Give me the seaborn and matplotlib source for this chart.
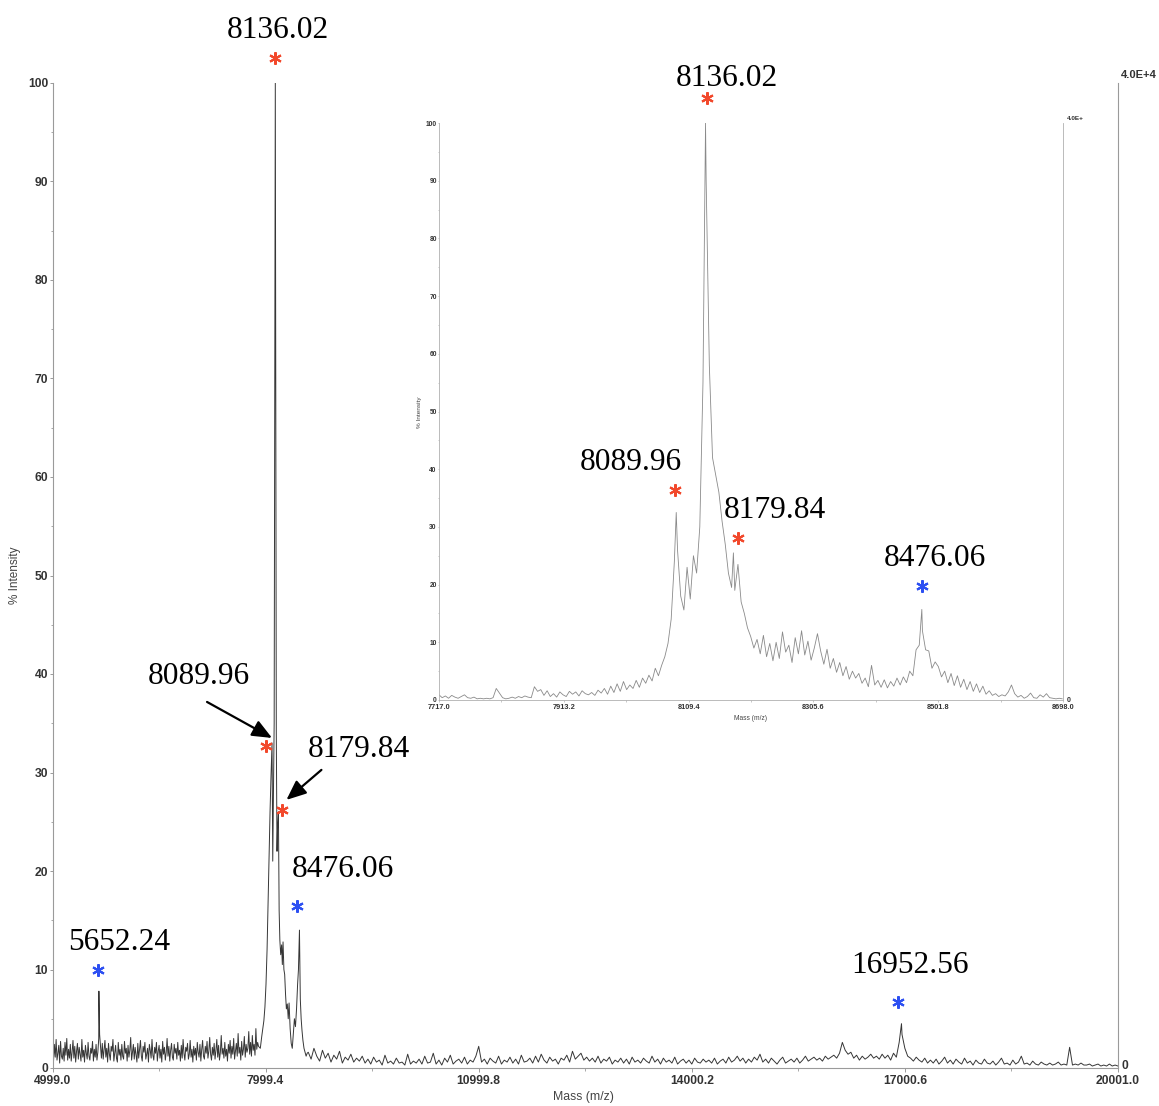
import numpy as np
import pandas as pd
import matplotlib
matplotlib.use("Agg")
import matplotlib.pyplot as plt
from matplotlib.transforms import offset_copy
import seaborn as sns

# ---------------- full-range MALDI spectrum (m/z 4999 - 20001) ----------------
# low-mass baseline, sampled every 12.5 Da from 5000
main_low_start, main_low_step = 5000.0, 12.5
main_low_intensity = [
    1.8, 0.6, 2.4, 1.1, 2.9, 0.8, 1.5, 2.3, 0.5, 2.7, 1.2, 0.9, 2.0, 0.7, 2.6, 1.3, 3.0, 0.8, 1.9, 1.0,
    2.4, 0.7, 1.6, 2.8, 1.0, 2.2, 0.6, 1.7, 2.5, 0.9, 2.1, 1.4, 0.7, 2.9, 1.1, 1.8, 0.6, 2.3, 1.5, 0.9,
    2.6, 1.2, 0.8, 2.0, 1.5, 2.7, 0.7, 1.9, 1.1, 2.4, 0.8, 1.6, 3.0, 3.4, 2.2, 1.0, 2.5, 0.9, 1.8, 2.8,
    1.1, 2.0, 0.6, 2.5, 1.4, 0.8, 2.2, 1.7, 2.9, 0.7, 1.5, 2.3, 1.0, 0.6, 2.6, 1.3, 1.9, 0.8, 2.4, 1.2,
    0.9, 2.7, 1.5, 2.0, 0.7, 2.3, 1.1, 1.8, 3.1, 0.8, 1.6, 2.4, 0.9, 2.1, 1.3, 0.6, 2.5, 1.0, 1.9, 2.8,
    1.2, 0.7, 2.2, 1.6, 2.6, 0.9, 1.4, 2.0, 0.6, 2.4, 1.8, 1.0, 2.9, 1.3, 0.8, 2.1, 1.5, 2.6, 0.7, 1.7,
    2.3, 1.0, 1.9, 0.6, 2.7, 1.4, 2.1, 0.8, 1.6, 3.0, 1.2, 2.2, 0.7, 1.8, 2.5, 1.1, 0.8, 2.4, 1.5, 2.0,
    0.9, 2.6, 1.3, 1.8, 0.7, 2.3, 1.0, 2.9, 1.5, 0.8, 2.1, 1.7, 2.5, 0.9, 1.4, 2.8, 1.1, 1.9, 0.6, 2.2,
    1.3, 2.0, 0.8, 2.6, 1.6, 1.1, 2.4, 0.7, 1.9, 2.8, 1.2, 0.9, 2.2, 1.5, 2.7, 1.0, 1.7, 3.1, 1.4, 0.8,
    2.1, 1.3, 2.5, 0.9, 1.8, 2.9, 1.1, 2.3, 0.8, 1.6, 3.3, 1.4, 2.0, 1.0, 2.6, 1.2, 1.9, 0.7, 2.4, 1.5,
    2.8, 1.0, 2.2, 1.4, 3.0, 0.9, 1.7, 2.5, 1.2, 3.5, 1.5, 2.1, 0.8, 2.7, 1.3, 1.9, 3.2, 1.1, 2.4, 1.6,
    2.0, 3.7, 1.4, 2.6, 1.2, 3.3, 1.8, 2.4, 1.3, 4.0, 1.9, 2.6, 2.2,
]

# main cluster around the 8136 Da species
main_cluster_mass = [
    7925, 7945, 7960, 7975, 7990, 8005, 8020, 8035, 8050, 8062, 8075,
    8100, 8110, 8120, 8150, 8160, 8168, 8190, 8200, 8212, 8225, 8235, 8245,
    8257, 8268, 8280, 8292, 8305, 8318, 8330, 8345, 8360, 8375, 8390, 8405,
    8420, 8435, 8450, 8462, 8488, 8500, 8512, 8525, 8540, 8555, 8570, 8585,
]
main_cluster_intensity = [
    2.0, 3.2, 4.0, 4.8, 6.2, 8.5, 12.0, 17.0, 22.0, 26.0, 29.5,
    21.0, 28.0, 35.0, 34.0, 22.0, 24.5, 16.0, 13.0, 11.5, 12.5, 10.5, 12.8,
    10.0, 9.5, 7.5, 6.0, 6.5, 5.0, 6.6, 4.0, 2.5, 2.0, 3.5, 5.0,
    4.2, 6.0, 8.5, 10.0, 7.0, 5.0, 3.8, 2.8, 2.0, 1.6, 1.2, 1.5,
]

# high-mass baseline, sampled every 40 Da from 8600
main_high_start, main_high_step = 8600.0, 40.0
main_high_intensity = [
    1.6, 0.9, 2.0, 1.2, 0.7, 1.8, 1.0, 1.5, 0.6, 1.3, 0.9, 1.7, 0.5, 1.1, 0.8, 1.4, 0.6, 1.0, 0.7, 1.2,
    0.5, 0.9, 0.4, 1.1, 0.6, 0.8, 0.3, 1.3, 0.5, 0.7, 0.4, 1.0, 0.5, 0.6, 0.3, 1.4, 0.4, 0.7, 0.5, 0.9,
    0.4, 1.2, 0.5, 0.6, 1.5, 0.4, 0.8, 0.3, 1.0, 0.6, 1.3, 0.4, 0.7, 0.9, 0.5, 1.1, 0.4, 0.8, 0.6, 1.2,
    2.2, 0.6, 0.9, 0.4, 1.0, 0.7, 0.5, 1.2, 0.4, 0.8, 0.6, 1.1, 0.5, 0.9, 0.4, 1.3, 0.6, 0.7, 1.0, 0.5,
    1.2, 0.6, 1.4, 0.8, 0.5, 1.1, 0.7, 0.9, 0.4, 1.0, 0.8, 1.3, 0.6, 1.7, 0.9, 1.2, 1.5, 0.8, 1.1, 0.7,
    1.0, 0.6, 1.2, 0.5, 0.9, 0.7, 1.1, 0.4, 0.8, 0.6, 1.0, 0.5, 0.9, 0.4, 1.1, 0.6, 0.8, 0.5, 1.0, 0.7,
    0.5, 1.2, 0.6, 0.9, 0.4, 1.0, 0.6, 0.8, 0.5, 1.1, 0.4, 0.7, 0.9, 0.5, 0.8, 0.4, 1.0, 0.6, 0.5, 0.9,
    0.6, 0.8, 0.5, 1.0, 0.4, 0.7, 0.9, 0.5, 1.1, 0.6, 0.8, 1.2, 0.7, 1.0, 0.5, 0.9, 0.6, 1.1, 0.8, 1.4,
    0.6, 0.9, 0.5, 1.0, 0.7, 0.4, 0.8, 1.1, 0.5, 0.7, 0.9, 0.6, 1.0, 0.5, 0.8, 1.2, 0.7, 0.9, 1.1, 0.8,
    1.0, 0.7, 1.2, 0.9, 1.1, 1.3, 1.0, 1.5, 2.6, 1.8, 1.4, 1.6, 1.0, 1.3, 0.8, 1.2, 0.9, 1.1, 1.4, 1.0,
    1.2, 0.9, 1.4, 1.0, 1.3, 0.8, 1.5, 1.1, 2.6, 3.4, 2.0, 1.2, 1.0, 0.7, 1.1, 0.8, 0.6, 1.0, 0.5, 0.8,
    0.5, 0.9, 0.4, 0.7, 1.1, 0.5, 0.8, 0.4, 0.9, 0.6, 0.4, 1.0, 0.5, 0.7, 0.3, 0.8, 0.5, 0.4, 0.9, 0.5,
    0.4, 0.7, 0.3, 0.6, 1.0, 0.4, 0.5, 0.3, 0.8, 0.4, 0.6, 1.2, 0.4, 0.5, 0.3, 0.7, 0.4, 0.3, 0.6, 0.4,
    0.3, 0.5, 0.3, 0.4, 0.6, 0.3, 0.4, 0.3, 2.1, 0.3, 0.4, 0.3, 0.5, 0.3, 0.3, 0.4, 0.2, 0.3, 0.4, 0.2,
    0.3, 0.2, 0.4, 0.2, 0.3, 0.2,
]

# labelled peaks of the full-range spectrum
main_peak_mass = [5652.24, 8089.96, 8136.02, 8179.84, 8476.06, 16952.56]
main_peak_intensity = [7.8, 33.0, 100.0, 26.0, 14.0, 4.5]
main_peak_kind = ["b", "r", "r", "r", "b", "b"]

main_xticks = [4999.0, 7999.4, 10999.8, 14000.2, 17000.6, 20001.0]

# ---------------- zoomed spectrum (m/z 7717 - 8698) ----------------
inset_start, inset_step = 7717.0, 5.0
inset_intensity = [
    0.9, 0.4, 0.7, 0.3, 0.8, 0.5, 0.3, 0.6, 0.9, 0.4, 0.3, 0.5, 0.2, 0.3, 0.2, 0.3, 0.2, 0.4, 2.0, 1.2,
    0.4, 0.2, 0.3, 0.5, 0.3, 0.6, 0.4, 0.7, 0.5, 0.4, 2.3, 1.5, 1.8, 0.8, 1.6, 0.6, 1.1, 0.5, 1.4, 0.9,
    0.6, 1.5, 1.0, 1.4, 0.7, 1.6, 1.1, 0.9, 1.3, 0.8, 1.7, 1.2, 2.0, 1.0, 2.4, 1.3, 2.8, 1.5, 3.2, 1.8,
    2.6, 2.0, 3.4, 2.2, 3.8, 2.9, 4.3, 3.3, 5.5, 4.2, 6.0, 7.5, 9.8, 14.0, 24.0, 26.0, 18.0, 15.6, 23.0, 17.5,
    25.0, 22.0, 30.0, 55.0, 90.0, 58.0, 42.0, 39.0, 36.0, 31.0, 27.0, 22.0, 19.5, 19.0, 23.5, 17.0, 15.0, 12.5, 11.0, 9.0,
    10.5, 8.0, 11.2, 7.5, 9.8, 6.8, 10.0, 7.2, 11.8, 8.3, 9.5, 6.5, 10.8, 8.0, 12.0, 7.8, 10.2, 6.9, 9.0, 11.5,
    8.5, 6.2, 8.8, 5.5, 7.2, 4.8, 6.5, 4.2, 5.8, 3.6, 5.0, 3.8, 4.6, 2.9, 3.8, 2.3, 6.0, 2.6, 3.4, 2.2,
    3.5, 2.1, 3.2, 2.4, 3.8, 2.6, 4.0, 3.0, 5.0, 4.2, 8.7, 9.5, 12.0, 8.7, 8.5, 5.5, 6.6, 5.8, 4.0, 5.0,
    3.0, 4.6, 2.5, 4.2, 2.2, 3.6, 1.8, 3.2, 1.5, 2.8, 1.3, 2.4, 1.0, 1.6, 0.8, 1.1, 0.6, 0.9, 0.7, 1.4,
    2.6, 1.1, 0.5, 0.8, 0.3, 0.6, 1.2, 0.4, 0.3, 0.9, 0.5, 1.1, 0.4, 0.3, 0.2, 0.3, 0.2,
]

inset_peak_mass = [8089.96, 8136.02, 8179.84, 8476.06]
inset_peak_intensity = [32.5, 100.0, 25.5, 15.7]
inset_peak_kind = ["r", "r", "r", "b"]

inset_xticks = [7717.0, 7913.2, 8109.4, 8305.6, 8501.8, 8698.0]


def grid(start, step, values):
    return start + step * np.arange(len(values))


main_df = pd.DataFrame({
    "mass": np.concatenate([
        grid(main_low_start, main_low_step, main_low_intensity),
        main_cluster_mass,
        grid(main_high_start, main_high_step, main_high_intensity),
        main_peak_mass,
    ]),
    "intensity": np.concatenate([
        main_low_intensity, main_cluster_intensity, main_high_intensity, main_peak_intensity,
    ]),
}).sort_values("mass")

inset_df = pd.DataFrame({
    "mass": np.concatenate([grid(inset_start, inset_step, inset_intensity), inset_peak_mass]),
    "intensity": np.concatenate([inset_intensity, inset_peak_intensity]),
}).sort_values("mass")

# ---------------- styling ----------------
sns.set_theme(style="white")
plt.rcParams["font.family"] = ["Liberation Sans", "DejaVu Sans"]

W, H = 1159, 1106
fig = plt.figure(figsize=(W / 100, H / 100), dpi=100)
fig.patch.set_facecolor("white")

STAR_COLORS = {"r": "#f2482b", "b": "#2c4ff2"}
LABEL_FONT = dict(family=["Liberation Serif", "DejaVu Serif"], fontsize=22.6, color="black")
TICK_COLOR = "#333333"


def style_axes(ax, spine_color, spine_lw):
    ax.set_facecolor("none")
    for side in ("left", "right", "bottom"):
        ax.spines[side].set_visible(True)
        ax.spines[side].set_color(spine_color)
        ax.spines[side].set_linewidth(spine_lw)
    ax.spines["top"].set_visible(False)
    ax.grid(False)
    ax.set_xlabel("")
    ax.set_ylabel("")


def offset(ax, dx, dy):
    return offset_copy(ax.transData, fig=fig, x=dx, y=dy, units="dots")


def mark_peak(ax, m, inten, kind, star, label, arrow=None):
    ax.plot([m], [inten], linestyle="none", marker=(6, 2, 0), markersize=9,
            markeredgewidth=1.5, color=STAR_COLORS[kind],
            transform=offset(ax, *star), clip_on=False, zorder=5)
    # digits of the serif face are about 21 px tall; place baseline below the centre
    ax.text(m, inten, f"{m:.2f}", ha="center", va="baseline",
            transform=offset(ax, label[0], label[1] - 10.5), clip_on=False, **LABEL_FONT)
    if arrow is not None:
        (tx, ty), (hx, hy) = arrow
        ax.annotate("", xy=(m, inten), xycoords=offset(ax, hx, hy),
                    xytext=(m, inten), textcoords=offset(ax, tx, ty),
                    arrowprops=dict(arrowstyle="-|>,head_length=0.75,head_width=0.32",
                                    color="black", lw=1.6, shrinkA=0, shrinkB=0,
                                    mutation_scale=16),
                    annotation_clip=False)


# ---------------- main axes ----------------
ax = fig.add_axes([52.5 / W, 38 / H, 1065.5 / W, 985 / H])
sns.lineplot(data=main_df, x="mass", y="intensity", ax=ax, estimator=None,
             color="#363636", linewidth=0.7)
style_axes(ax, "#9a9a9a", 0.8)
ax.set_xlim(main_xticks[0], main_xticks[-1])
ax.set_ylim(0, 100)
ax.set_xticks(main_xticks)
ax.set_xticklabels([f"{t:.1f}" for t in main_xticks])
ax.set_xticks([(a + b) / 2 for a, b in zip(main_xticks[:-1], main_xticks[1:])], minor=True)
ax.set_yticks(range(0, 101, 10))
ax.set_yticks(range(5, 100, 10), minor=True)
ax.tick_params(axis="x", which="major", direction="out", length=3, width=0.7,
               color="#9a9a9a", pad=1.8, labelsize=8.7, labelcolor=TICK_COLOR, bottom=True)
ax.tick_params(axis="x", which="minor", direction="out", length=2, width=0.6,
               color="#9a9a9a", bottom=True)
ax.tick_params(axis="y", which="major", direction="out", length=2, width=0.7,
               color="#9a9a9a", pad=1.2, labelsize=8.7, labelcolor=TICK_COLOR, left=True)
ax.tick_params(axis="y", which="minor", direction="out", length=1.5, width=0.6,
               color="#9a9a9a", left=True)
for t in ax.get_xticklabels() + ax.get_yticklabels():
    t.set_fontweight("bold")

main_layout = {
    5652.24: dict(star=(-1, 21), label=(20, 52)),
    8089.96: dict(star=(-6, -3), label=(-73, 69), arrow=((-65, 41), (0, 5))),
    8136.02: dict(star=(0, 25), label=(3, 56)),
    8179.84: dict(star=(4, 2), label=(80, 65), arrow=((43, 42), (8, 12))),
    8476.06: dict(star=(-2, 24), label=(43, 64)),
    16952.56: dict(star=(-3, 22), label=(9, 61)),
}
for m, inten, kind in zip(main_peak_mass, main_peak_intensity, main_peak_kind):
    mark_peak(ax, m, inten, kind, **main_layout[m])

fig.text(15 / W, 1 - 575 / H, "% Intensity", rotation=90, ha="center", va="center",
         fontsize=8.5, color="#444444")
fig.text(583 / W, 1 - 1097 / H, "Mass (m/z)", ha="center", va="center",
         fontsize=8.8, color="#444444")
fig.text(1121 / W, 1 - 75 / H, "4.0E+4", ha="left", va="center",
         fontsize=8.0, fontweight="bold", color=TICK_COLOR)
fig.text(1122 / W, 1 - 1066 / H, "0", ha="left", va="center",
         fontsize=8.7, fontweight="bold", color=TICK_COLOR)

# ---------------- inset axes ----------------
ins = fig.add_axes([439 / W, 406 / H, 624 / W, 577 / H])
sns.lineplot(data=inset_df, x="mass", y="intensity", ax=ins, estimator=None,
             color="#8a8a8a", linewidth=0.6)
style_axes(ins, "#b0b0b0", 0.6)
ins.set_xlim(inset_xticks[0], inset_xticks[-1])
ins.set_ylim(0, 100)
ins.set_xticks(inset_xticks)
ins.set_xticklabels([f"{t:.1f}" for t in inset_xticks])
ins.set_xticks([(a + b) / 2 for a, b in zip(inset_xticks[:-1], inset_xticks[1:])], minor=True)
ins.set_yticks(range(0, 101, 10))
ins.set_yticks(range(5, 100, 10), minor=True)
ins.tick_params(axis="x", which="major", direction="out", length=1.5, width=0.5,
                color="#b0b0b0", pad=1.2, labelsize=5.3, labelcolor=TICK_COLOR, bottom=True)
ins.tick_params(axis="x", which="minor", direction="out", length=1.2, width=0.5,
                color="#b0b0b0", bottom=True)
ins.tick_params(axis="y", which="major", direction="out", length=1.0, width=0.5,
                color="#b0b0b0", pad=0.6, labelsize=4.8, labelcolor=TICK_COLOR, left=True)
ins.tick_params(axis="y", which="minor", direction="out", length=0.8, width=0.5,
                color="#b0b0b0", left=True)
for t in ins.get_xticklabels() + ins.get_yticklabels():
    t.set_fontweight("bold")

inset_layout = {
    8089.96: dict(star=(-1, 22.5), label=(-45, 52.5)),
    8136.02: dict(star=(1.5, 25), label=(21.5, 48)),
    8179.84: dict(star=(4.6, 15), label=(41.6, 45)),
    8476.06: dict(star=(0, 23.4), label=(13, 54.4)),
}
for m, inten, kind in zip(inset_peak_mass, inset_peak_intensity, inset_peak_kind):
    mark_peak(ins, m, inten, kind, **inset_layout[m])

fig.text(419 / W, 1 - 412 / H, "% Intensity", rotation=90, ha="center", va="center",
         fontsize=4.6, color="#444444")
fig.text(750 / W, 1 - 718 / H, "Mass (m/z)", ha="center", va="center",
         fontsize=4.8, color="#444444")
fig.text(1067 / W, 1 - 119 / H, "4.0E+", ha="left", va="center",
         fontsize=4.6, fontweight="bold", color=TICK_COLOR)
fig.text(1067 / W, 1 - 700 / H, "0", ha="left", va="center",
         fontsize=5.0, fontweight="bold", color=TICK_COLOR)

fig.savefig("out.png", dpi=100, facecolor="white")
